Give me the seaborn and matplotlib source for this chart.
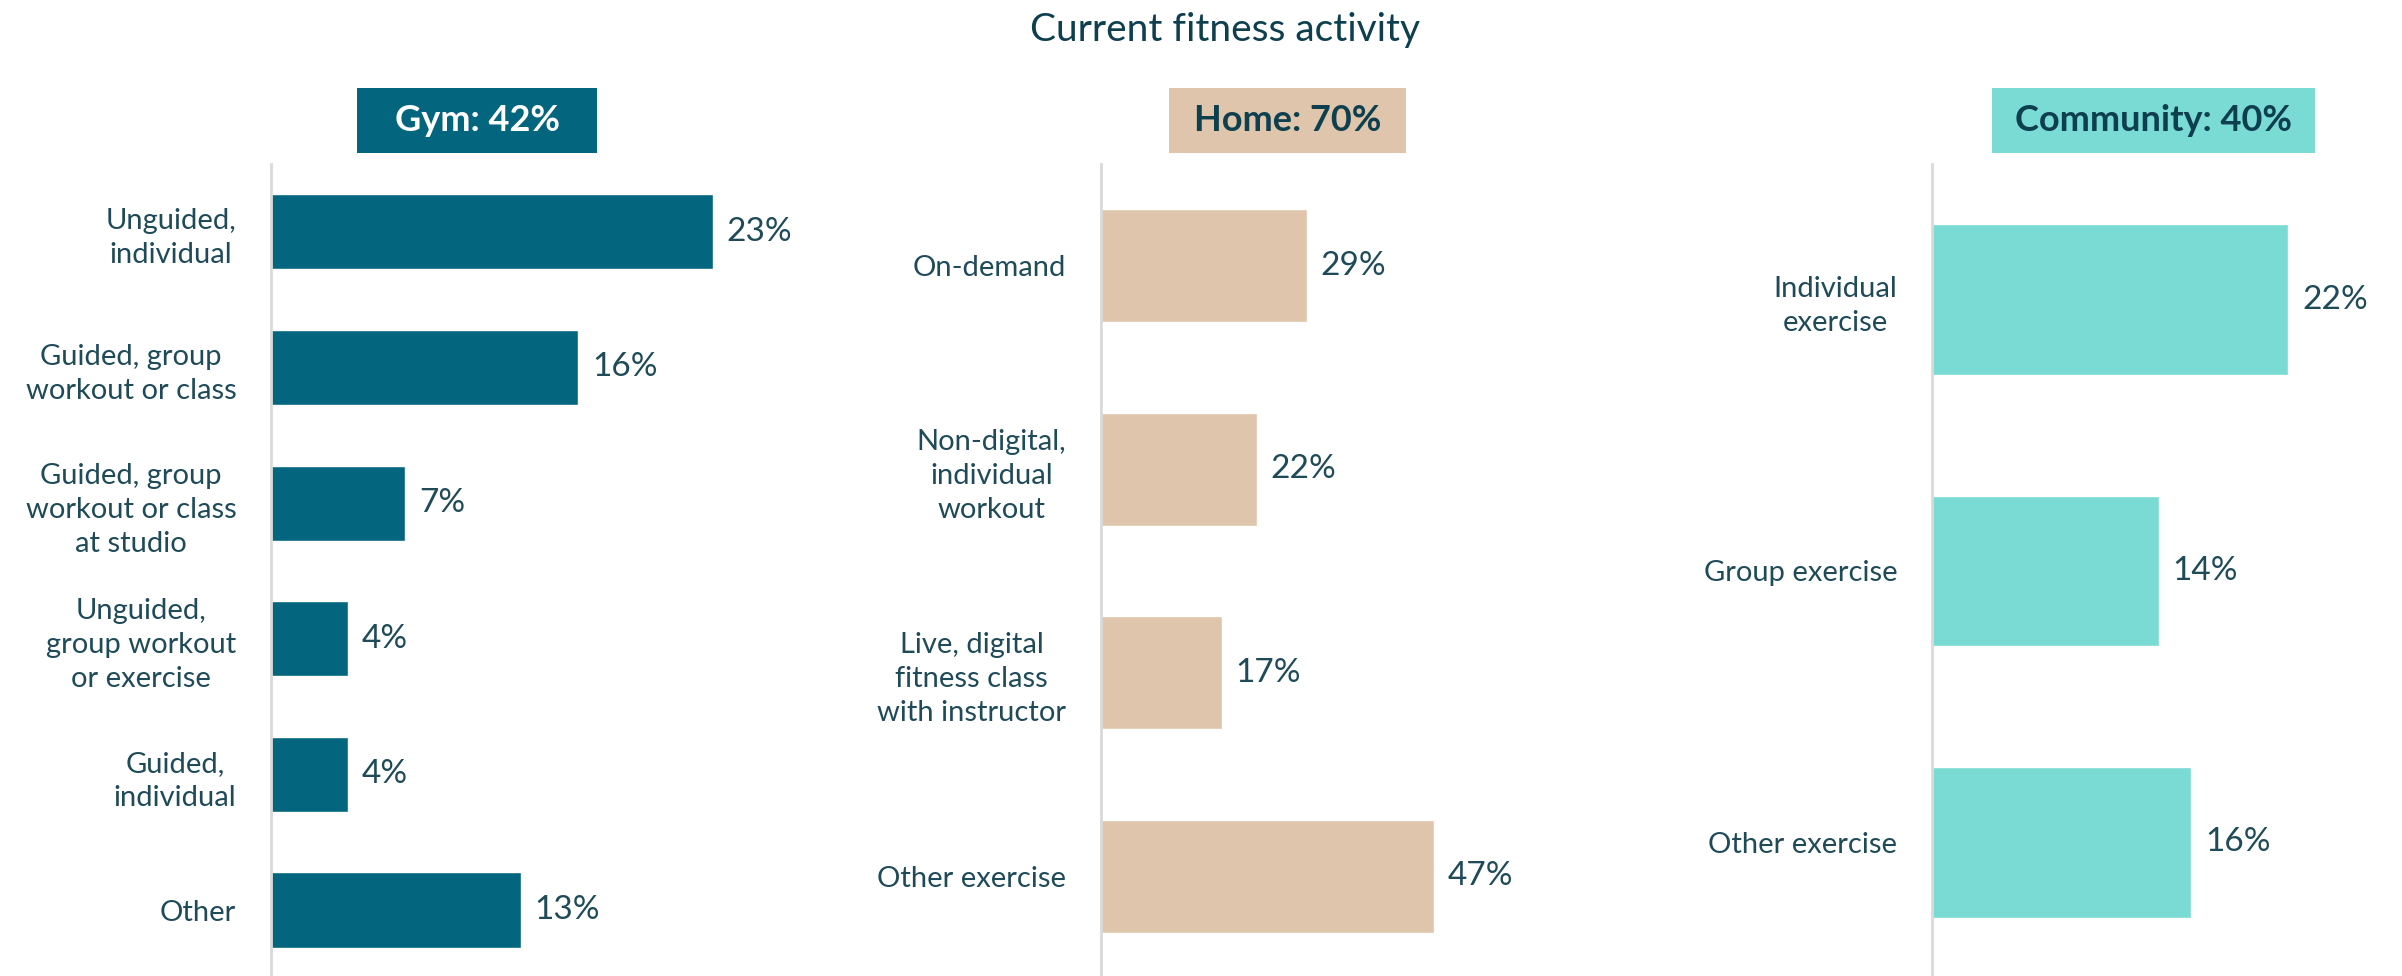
import matplotlib
matplotlib.use("Agg")
import matplotlib.pyplot as plt
from matplotlib.patches import Rectangle
import seaborn as sns
import pandas as pd

# ---- data ----
gym_labels = ["Unguided,\nindividual", "Guided, group\nworkout or class",
              "Guided, group\nworkout or class\nat studio",
              "Unguided,\ngroup workout\nor exercise", "Guided,\nindividual", "Other"]
gym_values = [23, 16, 7, 4, 4, 13]

home_labels = ["On-demand", "Non-digital,\nindividual\nworkout",
               "Live, digital\nfitness class\nwith instructor", "Other exercise"]
home_values = [29, 22, 17, 47]

comm_labels = ["Individual\nexercise", "Group exercise", "Other exercise"]
comm_values = [22, 14, 16]

headers = ["Gym: 42%", "Home: 70%", "Community: 40%"]
title = "Current fitness activity"

# ---- style ----
sns.set_theme(style="white")
plt.rcParams["font.family"] = ["Lato", "DejaVu Sans"]

TEXT = "#1F4B59"
HEAD_DARK = "#0E3F4F"
colors = ["#03657E", "#DFC5AB", "#7ADAD4"]
header_text_colors = ["white", HEAD_DARK, HEAD_DARK]

W, H = 2402, 976
fig = plt.figure(figsize=(W / 100, H / 100), dpi=100)

# panel layout in pixels: (axis left, axis width, pixels per percent)
panels = [
    (271, 500, 19.2),
    (1101, 500, 7.09),
    (1932, 440, 16.2),
]
header_boxes = [  # (x0, x1) in pixels, shared top/bottom
    (357, 597),
    (1169, 1406),
    (1992, 2315),
]
box_top, box_bot = 88, 153
ax_top = 164

datasets = [(gym_labels, gym_values), (home_labels, home_values), (comm_labels, comm_values)]

for (labels, values), (left, width, ppp), color, hdr, (bx0, bx1), htc in zip(
        datasets, panels, colors, headers, header_boxes, header_text_colors):
    ax = fig.add_axes([left / W, -0.002, width / W, (H - ax_top) / H + 0.002])
    df = pd.DataFrame({"label": labels, "value": values})
    sns.barplot(data=df, y="label", x="value", orient="h", color=color,
                saturation=1, width=0.555, ax=ax)
    ax.set_xlim(0, width / ppp)
    ax.set_ylim(len(labels) - 0.5, -0.5)
    ax.set_xlabel("")
    ax.set_ylabel("")
    ax.set_xticks([])
    for s in ["top", "right", "bottom"]:
        ax.spines[s].set_visible(False)
    ax.spines["left"].set_color("#D9D9D9")
    ax.spines["left"].set_linewidth(2)
    ax.tick_params(axis="y", length=0, pad=25, labelsize=21, labelcolor=TEXT)
    for t in ax.get_yticklabels():
        t.set_multialignment("center")
        t.set_linespacing(1.38)
    for i, v in enumerate(values):
        ax.annotate(f"{v}%", xy=(v, i), xytext=(10, 0), textcoords="offset points",
                    va="center", ha="left", fontsize=24, color=TEXT)

    # header box
    fig.patches.append(Rectangle((bx0 / W, 1 - box_bot / H), (bx1 - bx0) / W,
                                 (box_bot - box_top) / H, transform=fig.transFigure,
                                 facecolor=color, edgecolor="none", zorder=0))
    fig.text((bx0 + bx1) / 2 / W, 1 - (box_top + box_bot) / 2 / H, hdr,
             ha="center", va="center", fontsize=26, fontweight="bold", color=htc)

fig.text(1225 / W, 1 - 30 / H, title, ha="center", va="center", fontsize=28, color=HEAD_DARK)

fig.savefig("out.png", dpi=100)
